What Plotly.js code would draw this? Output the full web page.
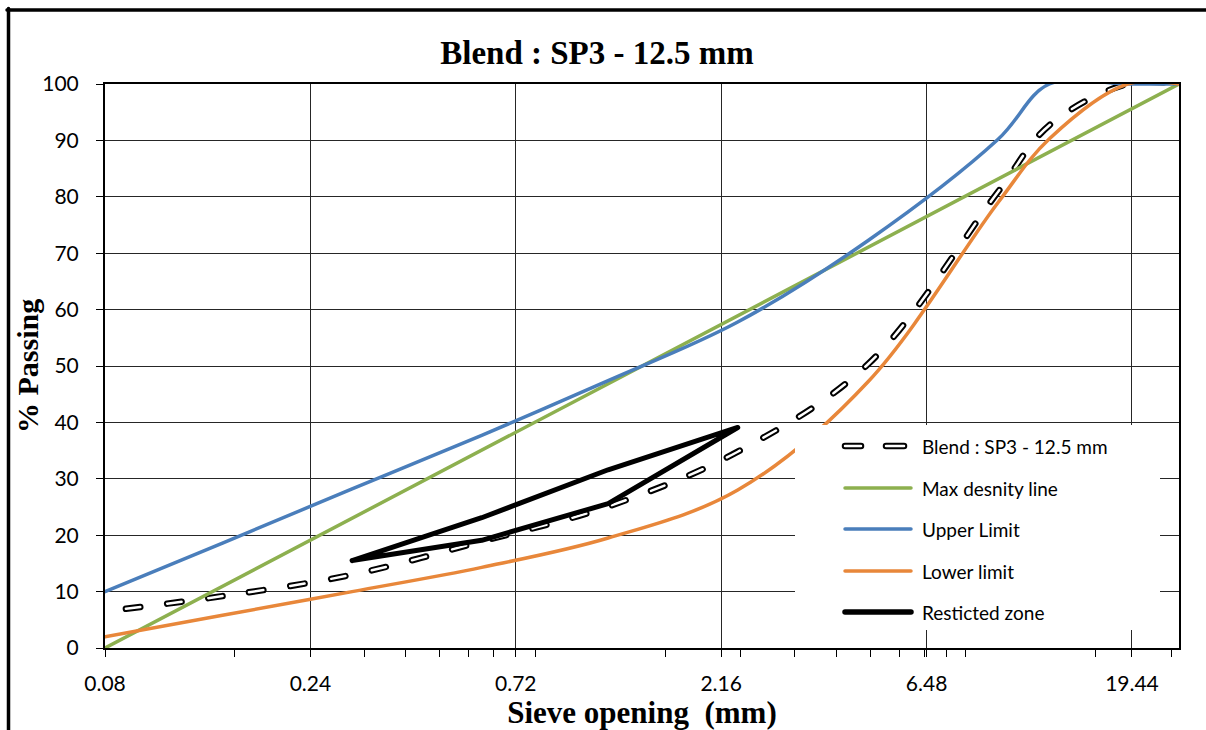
<!DOCTYPE html>
<html><head><meta charset="utf-8">
<script src="https://cdn.plot.ly/plotly-3.0.1.min.js"></script>
<style>html,body{margin:0;padding:0;background:#fff;overflow:hidden;} #chart{width:1206px;height:730px;}</style>
</head><body><div id="chart"></div>
<script>
// ---- data ----
const sieveSizes   = [0.08, 0.15, 0.3, 0.6, 1.18, 2.36, 4.75, 9.5, 12.5, 19, 25];
const blendPassing = [6.5, 9.2, 13.0, 18.9, 25.1, 34.8, 50.4, 80.9, 92.7, 100, 100];
const upperLimit   = [10, 18.6, 28.2, 37.7, 47.4, 57.8, 72.3, 90.2, 100, 100, 100];
const lowerLimit   = [2, 5.8, 10.0, 14.3, 19.5, 28, 47.3, 79, 90.3, 100, 100];
const maxDensitySizes   = [0.08, 25];
const maxDensityPassing = [0, 100];
const zoneSizes   = [0.3, 0.6, 1.18, 2.36, 1.18, 0.6, 0.3];
const zonePassing = [15.5, 19.1, 25.6, 39.1, 31.6, 23.1, 15.5];
const xTickVals = [0.08, 0.24, 0.72, 2.16, 6.48, 19.44];
const xTickText = ['0.08', '0.24', '0.72', '2.16', '6.48', '19.44'];
const xMinorTickVals = [0.16, 0.32, 0.40, 0.48, 0.56, 0.64, 0.80, 1.6, 2.4, 3.2, 4.0, 4.8, 5.6, 6.4, 7.2, 8.0, 16, 24];
const legendLabels = ['Blend : SP3 - 12.5 mm', 'Max desnity line', 'Upper Limit', 'Lower limit', 'Resticted zone'];

const GREEN = '#8DB04F', BLUE = '#4A7EBB', ORANGE = '#E8873A';
const DASH = '14.5px,27px';

const data = [
  {x: sieveSizes, y: blendPassing, mode: 'lines', name: legendLabels[0], showlegend: false, hoverinfo: 'skip',
   line: {color: '#000', width: 6.5, dash: DASH, shape: 'spline'}},
  {x: sieveSizes, y: blendPassing, mode: 'lines', name: legendLabels[0], showlegend: false, hoverinfo: 'skip',
   line: {color: '#fff', width: 2.5, dash: DASH, shape: 'spline'}},
  {x: maxDensitySizes, y: maxDensityPassing, mode: 'lines', name: legendLabels[1], showlegend: false,
   line: {color: GREEN, width: 3.5}},
  {x: sieveSizes, y: upperLimit, mode: 'lines', name: legendLabels[2], showlegend: false,
   line: {color: BLUE, width: 3.5, shape: 'spline'}},
  {x: sieveSizes, y: lowerLimit, mode: 'lines', name: legendLabels[3], showlegend: false,
   line: {color: ORANGE, width: 3.5, shape: 'spline'}},
  {x: zoneSizes, y: zonePassing, mode: 'lines', name: legendLabels[4], showlegend: false,
   line: {color: '#000', width: 5}}
];

// plot area in pixels: left 105, right 1179, top 84, bottom 648
const L = 105, R = 1179, T = 84, B = 648;
const px = v => (v - L) / (R - L);
const py = v => (B - v) / (B - T);

const shapes = [
  // outer chart frame (top and left edges visible)
  {type: 'line', xref: 'paper', yref: 'paper', x0: px(7), x1: px(1230), y0: py(10), y1: py(10),
   line: {color: '#000', width: 3.5}, layer: 'above'},
  {type: 'line', xref: 'paper', yref: 'paper', x0: px(8.5), x1: px(8.5), y0: py(8.5), y1: py(760),
   line: {color: '#000', width: 3.5}, layer: 'above'},
  // legend background
  {type: 'rect', xref: 'paper', yref: 'paper', x0: px(795), x1: px(1160), y0: py(630), y1: py(425),
   line: {width: 0}, fillcolor: '#fff', layer: 'above'}
];
const legendY = [446, 488, 529, 571, 612];
// blend sample: two outlined dashes
[[845, 861], [886, 904]].forEach(([a, b]) => {
  shapes.push({type: 'line', xref: 'paper', yref: 'paper', x0: px(a), x1: px(b), y0: py(legendY[0]), y1: py(legendY[0]),
    line: {color: '#000', width: 6.5}, layer: 'above'});
  shapes.push({type: 'line', xref: 'paper', yref: 'paper', x0: px(a), x1: px(b), y0: py(legendY[0]), y1: py(legendY[0]),
    line: {color: '#fff', width: 2.5}, layer: 'above'});
});
[[GREEN, 3.5], [BLUE, 3.5], [ORANGE, 3.5], ['#000', 5.5]].forEach(([c, w], i) => {
  shapes.push({type: 'line', xref: 'paper', yref: 'paper', x0: px(845), x1: px(911), y0: py(legendY[i + 1]), y1: py(legendY[i + 1]),
    line: {color: c, width: w}, layer: 'above'});
});

const annotations = legendLabels.map((t, i) => ({
  text: t, xref: 'paper', yref: 'paper', x: px(920), y: py(legendY[i]), xanchor: 'left', yanchor: 'middle',
  showarrow: false, font: {family: 'Lato', size: 19, color: '#000'}
}));
// y-axis title placed like the reference
annotations.push({text: '% Passing', xref: 'paper', yref: 'paper', x: px(27), y: py(366),
  xanchor: 'center', yanchor: 'middle', textangle: -90, showarrow: false,
  font: {family: 'Liberation Serif', size: 30, weight: 'bold', color: '#000'}});

const layout = {
  width: 1206, height: 730,
  margin: {l: L, r: 1206 - R, t: T, b: 730 - B},
  paper_bgcolor: '#fff', plot_bgcolor: '#fff',
  showlegend: false,
  title: {text: 'Blend : SP3 - 12.5 mm', x: 597 / 1206, xref: 'container', xanchor: 'center',
          y: 1 - 52 / 730, yref: 'container', yanchor: 'middle',
          font: {family: 'Liberation Serif', size: 33, weight: 'bold', color: '#000'}},
  xaxis: {type: 'log', range: [Math.log10(0.08), Math.log10(25)],
          tickmode: 'array', tickvals: xTickVals, ticktext: xTickText,
          ticks: 'outside', ticklen: 7, tickcolor: '#000', tickwidth: 1, ticklabelstandoff: 9,
          minor: {tickmode: 'array', tickvals: xMinorTickVals, ticks: 'outside', ticklen: 7,
                  tickcolor: '#000', tickwidth: 1, showgrid: false},
          showgrid: true, gridcolor: '#262626', gridwidth: 1,
          showline: true, linecolor: '#000', linewidth: 2, mirror: true, zeroline: false,
          tickfont: {family: 'Lato', size: 21, color: '#000'},
          title: {text: 'Sieve opening&nbsp; (mm)', standoff: 2,
                  font: {family: 'Liberation Serif', size: 31, weight: 'bold', color: '#000'}}},
  yaxis: {range: [0, 100], dtick: 10, tick0: 0,
          ticks: 'outside', ticklen: 7, tickcolor: '#000', tickwidth: 1, ticklabelstandoff: 13,
          showgrid: true, gridcolor: '#262626', gridwidth: 1,
          showline: true, linecolor: '#000', linewidth: 2, mirror: true, zeroline: false,
          tickfont: {family: 'Lato', size: 21, color: '#000'}},
  shapes: shapes,
  annotations: annotations
};

Plotly.newPlot('chart', data, layout, {staticPlot: true}).then(gd => {
  gd.querySelectorAll('.scatterlayer .trace path.js-line').forEach(p => {
    p.style.strokeLinecap = 'round'; p.style.strokeLinejoin = 'round';
  });
  const traces = gd.querySelectorAll('.scatterlayer .trace');
  [0, 1].forEach(i => traces[i].querySelectorAll('path.js-line').forEach(p => { p.style.strokeDashoffset = '20.5'; }));
  gd.querySelectorAll('.shapelayer path').forEach(p => { p.style.strokeLinecap = 'round'; });
});
</script>
</body></html>
